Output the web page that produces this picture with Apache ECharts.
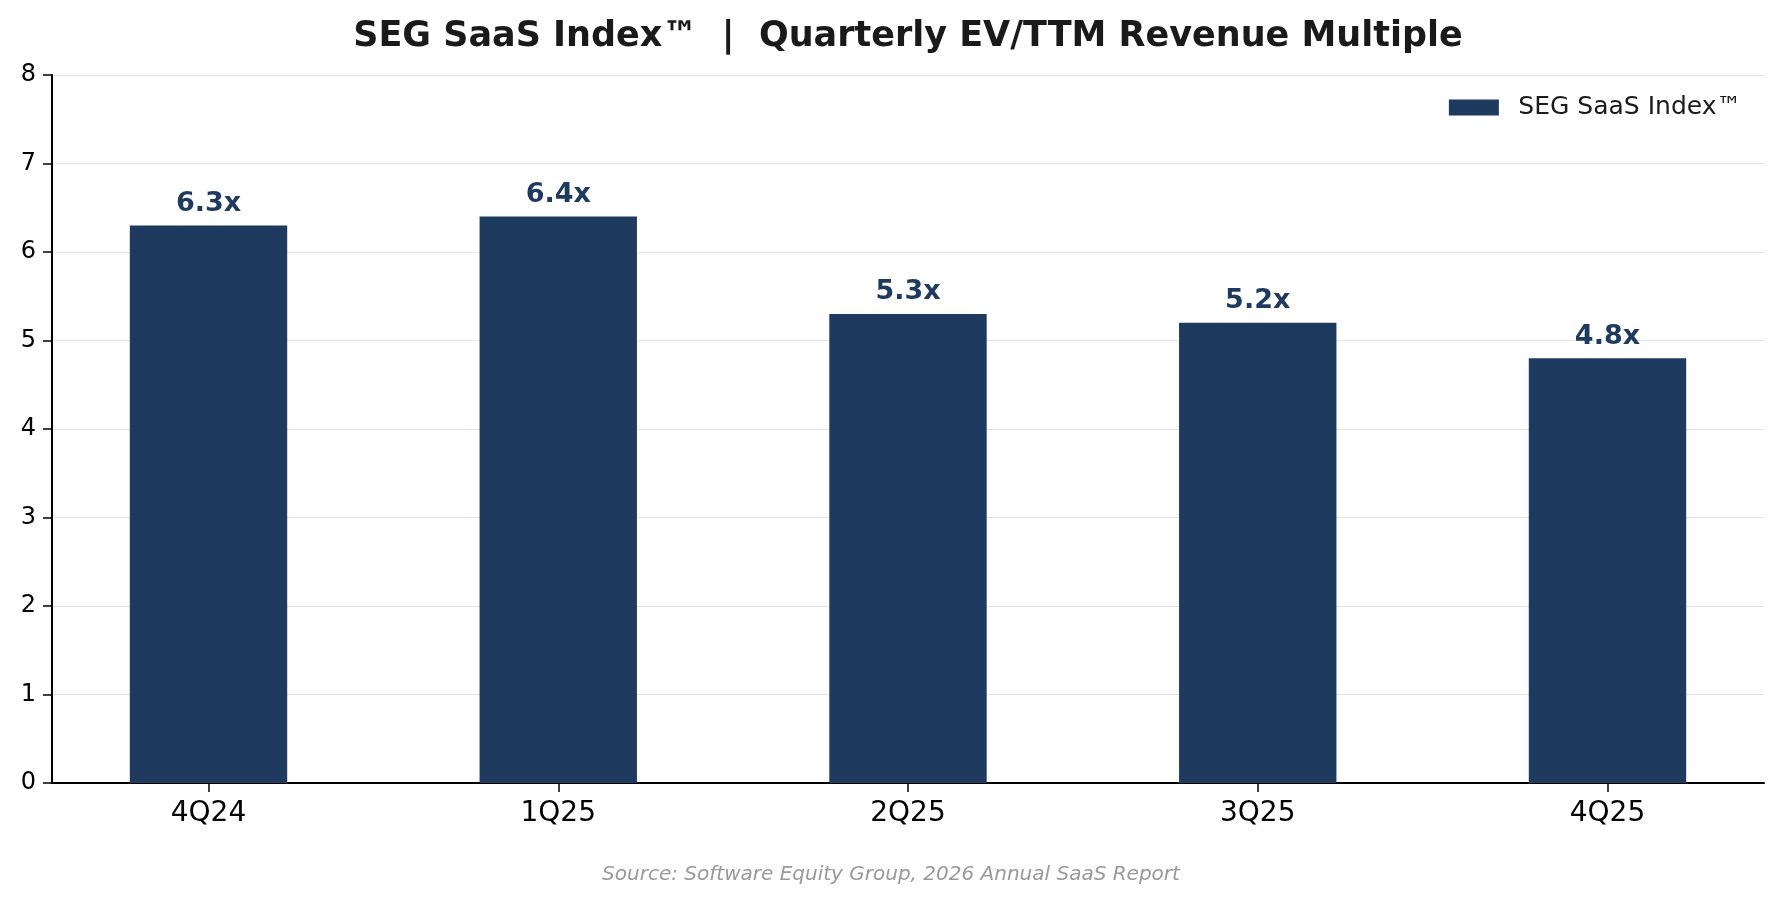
<!DOCTYPE html>
<html>
<head>
<meta charset="utf-8">
<script src="https://cdn.jsdelivr.net/npm/echarts@6/dist/echarts.min.js"></script>
<style>
  html, body { margin: 0; padding: 0; background: #fff; }
  #chart { width: 1782px; height: 904px; }
</style>
</head>
<body>
<div id="chart"></div>
<script>
var quarters = ['4Q24', '1Q25', '2Q25', '3Q25', '4Q25'];
var multiples = [6.3, 6.4, 5.3, 5.2, 4.8];
var yTicks = [0, 1, 2, 3, 4, 5, 6, 7, 8];

var navy = '#1e3a5f';
var font = 'DejaVu Sans';

var chart = echarts.init(document.getElementById('chart'));

// bars sit on a value axis so the x padding matches the original (0.45 wide bars)
var xMin = -0.4475, xMax = quarters.length - 1 + 0.4475;
var gridLeft = 52, gridRight = 18;
var plotW = 1782 - gridLeft - gridRight;
var barPx = 0.45 * plotW / (xMax - xMin);

var barData = multiples.map(function (v, i) { return [i, v]; });

var option = {
    animation: false,
    backgroundColor: '#fff',
    textStyle: { fontFamily: font },
    title: [{
        // centred over the plot area, not the page
        text: 'SEG SaaS Index\u2122  |  Quarterly EV/TTM Revenue Multiple',
        left: gridLeft + plotW / 2 - 5,
        textAlign: 'center',
        top: 14,
        textStyle: { fontFamily: font, fontSize: 35, fontWeight: 'bold', color: '#1a1a1a' }
    }, {
        text: 'Source: Software Equity Group, 2026 Annual SaaS Report',
        left: 'center',
        top: 860,
        textStyle: { fontFamily: font, fontSize: 20, fontStyle: 'italic', fontWeight: 'normal', color: '#999999' }
    }],
    legend: {
        right: 35.5,
        top: 90,
        itemWidth: 50,
        itemHeight: 16,
        itemGap: 10,
        icon: 'rect',
        textStyle: { fontFamily: font, fontSize: 25, color: '#1a1a1a', padding: [0, 0, 0, 14.5] },
        data: ['SEG SaaS Index\u2122']
    },
    grid: {
        left: gridLeft,
        right: gridRight,
        top: 75,
        bottom: 121,
        containLabel: false
    },
    xAxis: {
        type: 'value',
        min: xMin,
        max: xMax,
        axisLine: { show: true, onZero: false, lineStyle: { color: '#000', width: 2 } },
        axisTick: { show: true, length: 9, lineStyle: { color: '#000', width: 1.5 }, customValues: [0, 1, 2, 3, 4] },
        axisLabel: {
            customValues: [0, 1, 2, 3, 4],
            margin: 17,
            fontFamily: font,
            fontSize: 28,
            color: '#000',
            formatter: function (v) { return quarters[Math.round(v)]; }
        },
        splitLine: { show: false }
    },
    yAxis: {
        type: 'value',
        min: yTicks[0],
        max: yTicks[yTicks.length - 1],
        interval: 1,
        axisLine: { show: true, onZero: false, lineStyle: { color: '#000', width: 2 } },
        axisTick: { show: true, length: 9, lineStyle: { color: '#000', width: 1.5 } },
        axisLabel: { fontFamily: font, fontSize: 24, color: '#000', margin: 16 },
        splitLine: { show: true, lineStyle: { color: '#e6e6e6', width: 1 } }
    },
    series: [{
        name: 'SEG SaaS Index\u2122',
        type: 'bar',
        barWidth: barPx,
        data: barData,
        itemStyle: { color: navy },
        label: {
            show: true,
            position: 'top',
            distance: 8,
            fontFamily: font,
            fontSize: 27,
            fontWeight: 'bold',
            color: navy,
            formatter: function (p) { return p.value[1].toFixed(1) + 'x'; }
        }
    }]
};

chart.setOption(option);
</script>
</body>
</html>
